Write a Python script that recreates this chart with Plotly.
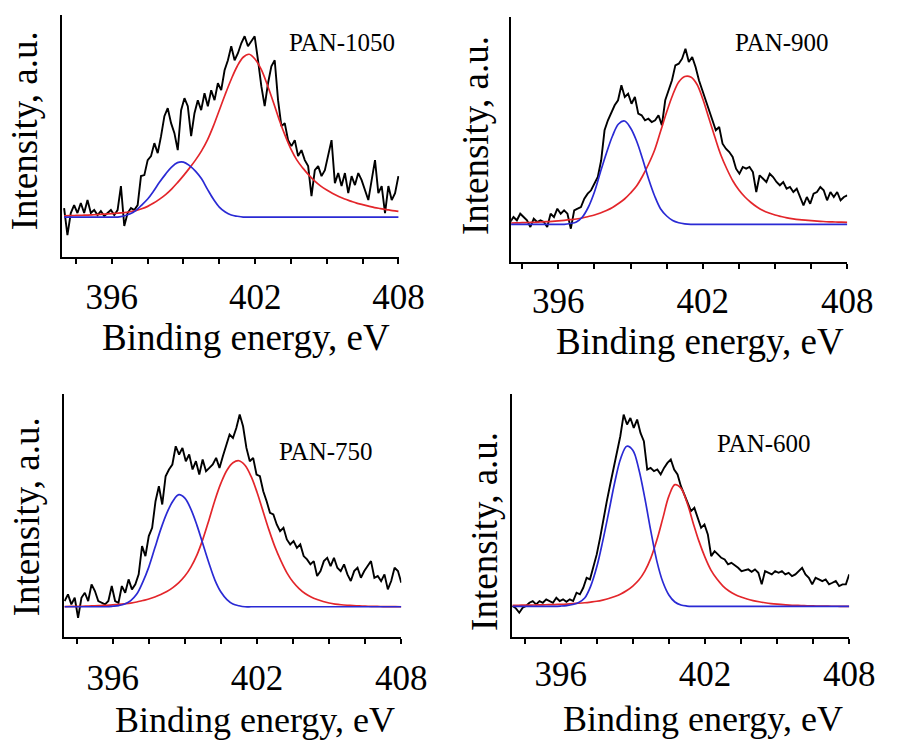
import plotly.graph_objects as go

# ---------------- data ----------------
# energy grid of the measured spectra (eV) and of the fitted components (eV)
energy_raw = [round(394.0 + 0.14 * i, 2) for i in range(101)]
energy_fit = [round(394.0 + 0.25 * i, 2) for i in range(57)]

tick_vals = [394.5, 396, 397.5, 399, 400.5, 402, 403.5, 405, 406.5, 408]
tick_text = ["", "396", "", "", "", "402", "", "", "", "408"]

sample_names = ["PAN-1050", "PAN-900", "PAN-750", "PAN-600"]

# PAN-1050
p1050_raw = [49, 22, 44, 52, 44, 54, 44, 57, 44, 47,
             42, 46, 41, 44, 47, 42, 47, 71, 31, 44,
             49, 47, 52, 81, 82, 97, 101, 114, 104, 121,
             141, 149, 134, 124, 107, 147, 159, 151, 121, 144,
             157, 147, 164, 151, 167, 157, 174, 167, 187, 197,
             211, 197, 204, 214, 221, 211, 216, 221, 197, 171,
             151, 174, 191, 197, 157, 131, 134, 117, 111, 117,
             101, 107, 97, 91, 61, 87, 91, 81, 87, 101,
             117, 74, 84, 71, 84, 64, 81, 72, 84, 77,
             67, 57, 77, 97, 64, 71, 44, 71, 57, 64,
             81]
p1050_n1 = [40] * 10 + [41, 43, 46.5, 52, 58, 66, 75, 83, 90, 94.5, 95, 91.5, 86, 78.5,
                        68, 58, 50, 45, 42, 40.8] + [40] * 27
p1050_n2 = [41.3, 41.4, 41.6, 41.8, 42, 42.3, 42.6, 43, 43.4, 43.9,
            44.5, 45.3, 46.5, 48.3, 50.7, 54, 58, 62.5, 68, 74.5,
            81.5, 89, 97, 106, 117, 131, 147, 163, 178, 191,
            200, 203, 198, 188, 173, 156, 138, 122, 108, 97,
            89, 82, 76, 71, 67, 63.5, 60.5, 58, 56, 54,
            52.5, 51, 49.5, 48.5, 47.5, 46.5, 45.7]

# PAN-900
p900_raw = [40, 45, 41.7, 48.3, 45, 41.7, 35, 43.3, 40, 41.7,
            40, 35, 48.3, 45, 53.3, 48.3, 51.7, 48.3, 33.3, 51.7,
            53.3, 55, 63.3, 68.3, 71.7, 78.3, 85, 101.7, 131.7, 141.7,
            150, 156.7, 161.7, 176.7, 165, 168.3, 158.3, 165, 148.3, 146.7,
            141.7, 143.3, 140, 141.7, 146.7, 136.7, 161.7, 171.7, 181.7, 196.7,
            198.3, 203.3, 213.3, 200, 205, 195, 181.7, 171.7, 161.7, 151.7,
            141.7, 131.7, 135, 118.3, 113.3, 110, 105, 93.3, 88.3, 95,
            93.3, 95, 90, 70, 86.7, 83.3, 80, 88.3, 85, 80,
            76.7, 80, 73.3, 75, 70, 73.3, 65, 56.7, 65, 58.3,
            68.3, 70, 75, 71.7, 61.7, 70, 65, 70, 61.7, 65,
            66.7]
p900_n1 = [37.7] * 10 + [38.5, 40, 45, 55, 70, 90, 109, 126, 138, 141, 134, 121, 103, 83,
                         66, 53, 46, 41.5, 39.3, 38.2] + [37.7] * 27
p900_n2 = [39, 39.1, 39.3, 39.5, 39.7, 40, 40.3, 40.7, 41.2, 41.7,
           42.3, 43, 44, 45.5, 47, 49, 51.5, 54.5, 58.5, 63,
           69, 76, 86, 98, 112, 131, 150, 167, 180, 185.5,
           185, 178, 163, 144, 125, 107, 93, 81, 72, 65,
           59.5, 55, 51.5, 49, 47, 45.5, 44.2, 43.2, 42.4, 41.8,
           41.3, 40.9, 40.5, 40.2, 40, 39.8, 39.6]

# PAN-750
p750_raw = [36, 42.7, 32.7, 39.3, 19.3, 39.3, 44.3, 36, 52.7, 46,
            36, 34.3, 32.7, 36, 51, 36, 34.3, 51, 44.3, 57.7,
            47.7, 52.7, 62.7, 91, 81, 101, 109.3, 136, 151, 132.7,
            161, 167.7, 172.7, 191, 182.7, 189.3, 176, 182.7, 167.7, 176,
            162.7, 177.7, 166, 169.3, 172.7, 179.3, 169.3, 181, 191, 202.7,
            199.3, 209.3, 222.7, 211, 189.3, 176, 179.3, 162.7, 161, 146,
            136, 124.3, 122.7, 112.7, 106, 109.3, 97.7, 92.7, 96, 89.3,
            92.7, 81, 77.7, 72.7, 76, 61, 66, 76, 79.3, 71,
            79.3, 69.3, 66, 72.7, 62.7, 56, 66, 69.3, 59.3, 66,
            71, 76, 59.3, 61, 56, 62.7, 47.7, 56, 69.3, 66,
            54.3]
p750_n1 = [30.3] * 8 + [30.8, 31.5, 33, 36.5, 43, 55, 70, 89, 108, 124, 136, 142.5, 139, 128,
                        112, 93, 74, 57, 45, 37.5, 33, 31.3] + [30.3] * 27
p750_n2 = [30.5, 30.6, 30.7, 30.8, 31, 31.2, 31.5, 31.8, 32.2, 32.7,
           33.3, 34, 35, 36.5, 38, 40, 42.5, 45.5, 49.5, 54.5,
           61, 70, 82, 98, 117, 137, 154, 167, 174.5, 176.5,
           172, 161, 145, 126, 107, 90, 76, 64, 55, 48.5,
           43.5, 40, 37.5, 35.5, 34, 33, 32.3, 31.8, 31.4, 31.1,
           30.9, 30.7, 30.6, 30.5, 30.4, 30.4, 30.3]

# PAN-600
p600_raw = [31, 28.7, 24.3, 29.3, 31, 34.3, 36, 32.7, 36, 34.3,
            37.7, 36, 34.3, 39.3, 36, 37.7, 35.3, 37.7, 36, 44.3,
            42.7, 49.3, 59.3, 57.7, 69.3, 82.7, 99.3, 119.3, 136, 152.7,
            169.3, 182.7, 201, 222.7, 212.7, 219.3, 209.3, 217.7, 204.3, 196,
            167.7, 169.3, 166, 167.7, 162.7, 169.3, 174.3, 177.7, 167.7, 162.7,
            151, 142.7, 134.3, 126, 129.3, 119.3, 109.3, 112.7, 102.7, 81,
            86, 82.7, 79.3, 77.7, 72.7, 74.3, 72, 69.3, 66, 66.7,
            67.7, 65.3, 67.7, 64.3, 52.7, 66, 64.3, 62.7, 66, 64.3,
            66, 62.7, 64.3, 61, 62.7, 66, 69.3, 62.7, 59.3, 52.7,
            59.3, 57.7, 56, 57.7, 52.7, 54.3, 56, 51, 52.7, 52.7,
            62.7]
p600_n1 = [30.7] * 8 + [31, 31.5, 32.5, 34.5, 39, 51, 70, 96, 125, 155, 179, 191, 187, 168,
                        139, 106, 76, 55, 42, 35, 32, 31] + [30.7] * 27
p600_n2 = [31.7, 31.8, 31.9, 32, 32.1, 32.2, 32.4, 32.5, 32.7, 33,
           33.4, 33.8, 34.3, 35, 35.8, 37, 38.5, 40.5, 43, 46.5,
           51, 57, 66, 79, 97, 119, 141, 152.5, 149, 135,
           115, 96, 80, 67, 58, 51, 46, 42.5, 40, 38,
           36.5, 35.3, 34.3, 33.5, 32.9, 32.4, 32, 31.7, 31.5, 31.3,
           31.1, 31, 30.9, 30.8, 30.8, 30.7, 30.7]

raw_series = [p1050_raw, p900_raw, p750_raw, p600_raw]
n1_series = [p1050_n1, p900_n1, p750_n1, p600_n1]
n2_series = [p1050_n2, p900_n2, p750_n2, p600_n2]

# ---------------- layout (pixel geometry) ----------------
W, H = 918, 742
def px(x): return x / W
def py(y): return 1 - y / H

boxes = [
    dict(l=64, r=411, t=15, b=257, xr=[393.92, 408.04], yr=[0, 242.3]),
    dict(l=526, r=872, t=17, b=262, xr=[394.04, 408.0], yr=[0, 245]),
    dict(l=66, r=413, t=394, b=637, xr=[393.98, 408.0], yr=[0, 243.3]),
    dict(l=527, r=874, t=394, b=637, xr=[393.98, 408.0], yr=[0, 243.3]),
]
name_pos = [(352, 43), (805, 43), (336, 451), (786, 443)]
xtitle_pos = [(253, 337), (720, 341), (262, 720), (724, 719)]
ytitle_pos = [(25, 131), (490, 136), (27, 517), (498, 531)]
standoffs = [3, 2, 4, 0]
xtitle_sizes = [37, 37, 36, 36]

SERIF = "Liberation Serif"
RED = "#e3262b"
BLUE = "#2a2ad4"

fig = go.Figure()
layout = dict(
    width=W, height=H, margin=dict(l=0, r=0, t=0, b=0),
    paper_bgcolor="white", plot_bgcolor="white", showlegend=False,
    font=dict(family=SERIF, color="black"),
)
annotations = []
for i, bx in enumerate(boxes):
    sfx = "" if i == 0 else str(i + 1)
    xa, ya = "x" + sfx, "y" + sfx
    fig.add_trace(go.Scatter(x=energy_raw, y=raw_series[i], mode="lines",
                             line=dict(color="black", width=1.9), xaxis=xa, yaxis=ya))
    fig.add_trace(go.Scatter(x=energy_fit, y=n2_series[i], mode="lines",
                             line=dict(color=RED, width=1.7, shape="spline"), xaxis=xa, yaxis=ya))
    fig.add_trace(go.Scatter(x=energy_fit, y=n1_series[i], mode="lines",
                             line=dict(color=BLUE, width=1.7, shape="spline"), xaxis=xa, yaxis=ya))
    layout["xaxis" + sfx] = dict(
        domain=[px(bx["l"]), px(bx["r"])], range=bx["xr"], anchor=ya,
        showline=True, linecolor="black", linewidth=2, mirror=False,
        showgrid=False, zeroline=False,
        ticks="outside", ticklen=5, tickwidth=1.5, tickcolor="black",
        tickmode="array", tickvals=tick_vals, ticktext=tick_text,
        tickfont=dict(family=SERIF, size=35, color="black"),
        ticklabelstandoff=standoffs[i],
    )
    layout["yaxis" + sfx] = dict(
        domain=[py(bx["b"]), py(bx["t"])], range=bx["yr"], anchor=xa,
        showline=True, linecolor="black", linewidth=2,
        showgrid=False, zeroline=False, ticks="", showticklabels=False,
    )
    annotations.append(dict(text=sample_names[i], x=px(name_pos[i][0]), y=py(name_pos[i][1]),
                            xref="paper", yref="paper", showarrow=False,
                            xanchor="center", yanchor="middle",
                            font=dict(family=SERIF, size=25, color="black")))
    annotations.append(dict(text="Binding energy, eV", x=px(xtitle_pos[i][0]), y=py(xtitle_pos[i][1]),
                            xref="paper", yref="paper", showarrow=False,
                            xanchor="center", yanchor="middle",
                            font=dict(family=SERIF, size=xtitle_sizes[i], color="black")))
    annotations.append(dict(text="Intensity, a.u.", x=px(ytitle_pos[i][0]), y=py(ytitle_pos[i][1]),
                            xref="paper", yref="paper", showarrow=False, textangle=-90,
                            xanchor="center", yanchor="middle",
                            font=dict(family=SERIF, size=37, color="black")))
layout["annotations"] = annotations
fig.update_layout(**layout)
fig.write_html("out.html")
